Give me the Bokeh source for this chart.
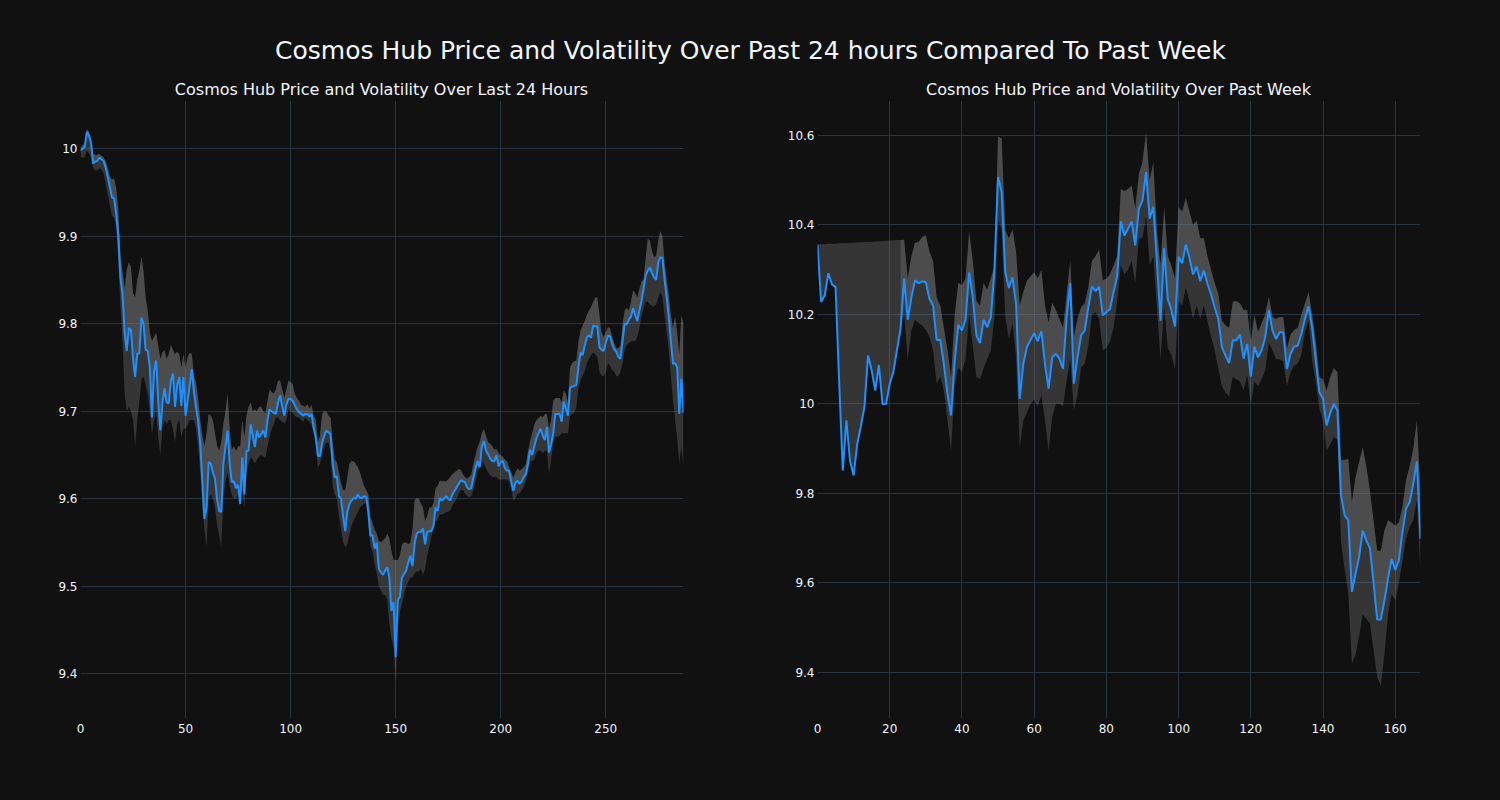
from bokeh.plotting import figure
from bokeh.layouts import column, row
from bokeh.models import Range1d, FixedTicker, CustomJSTickFormatter, Label
from bokeh.embed import file_html
from bokeh.resources import INLINE

# ---------------- data ----------------
main_title = "Cosmos Hub Price and Volatility Over Past 24 hours Compared To Past Week"
title_day = "Cosmos Hub Price and Volatility Over Last 24 Hours"
title_week = "Cosmos Hub Price and Volatility Over Past Week"

day_price = [
    9.998, 10.000, 10.002, 10.019, 10.015, 10.007, 9.983, 9.985, 9.986, 9.990,
    9.988, 9.986, 9.978, 9.968, 9.956, 9.944, 9.943, 9.925, 9.900, 9.853,
    9.834, 9.790, 9.769, 9.795, 9.793, 9.760, 9.739, 9.766, 9.766, 9.807,
    9.800, 9.770, 9.769, 9.750, 9.693, 9.745, 9.758, 9.710, 9.678, 9.710,
    9.726, 9.710, 9.709, 9.735, 9.743, 9.705, 9.730, 9.739, 9.706, 9.739,
    9.695, 9.712, 9.730, 9.748, 9.722, 9.704, 9.689, 9.662, 9.620, 9.577,
    9.590, 9.642, 9.640, 9.630, 9.623, 9.600, 9.586, 9.585, 9.640, 9.660,
    9.678, 9.640, 9.619, 9.620, 9.612, 9.616, 9.594, 9.647, 9.605, 9.655,
    9.655, 9.685, 9.672, 9.659, 9.678, 9.670, 9.674, 9.678, 9.670, 9.690,
    9.702, 9.700, 9.698, 9.697, 9.710, 9.718, 9.705, 9.695, 9.708, 9.714,
    9.714, 9.712, 9.707, 9.702, 9.699, 9.697, 9.695, 9.697, 9.697, 9.694,
    9.697, 9.681, 9.670, 9.649, 9.649, 9.664, 9.672, 9.678, 9.676, 9.674,
    9.640, 9.624, 9.626, 9.603, 9.600, 9.580, 9.563, 9.585, 9.594, 9.598,
    9.601, 9.600, 9.605, 9.601, 9.601, 9.603, 9.602, 9.585, 9.558, 9.558,
    9.543, 9.550, 9.520, 9.516, 9.513, 9.518, 9.522, 9.510, 9.472, 9.482,
    9.419, 9.484, 9.488, 9.510, 9.514, 9.518, 9.527, 9.535, 9.523, 9.548,
    9.560, 9.562, 9.562, 9.566, 9.548, 9.562, 9.563, 9.563, 9.569, 9.590,
    9.586, 9.601, 9.598, 9.600, 9.603, 9.600, 9.598, 9.605, 9.609, 9.613,
    9.617, 9.621, 9.620, 9.619, 9.613, 9.611, 9.612, 9.624, 9.635, 9.643,
    9.636, 9.660, 9.666, 9.655, 9.651, 9.646, 9.643, 9.643, 9.650, 9.637,
    9.642, 9.643, 9.635, 9.632, 9.632, 9.620, 9.609, 9.618, 9.621, 9.617,
    9.620, 9.625, 9.628, 9.640, 9.656, 9.650, 9.660, 9.669, 9.675, 9.680,
    9.672, 9.667, 9.682, 9.653, 9.662, 9.675, 9.697, 9.697, 9.697, 9.688,
    9.711, 9.703, 9.695, 9.727, 9.728, 9.729, 9.730, 9.750, 9.767, 9.764,
    9.775, 9.784, 9.787, 9.784, 9.798, 9.797, 9.797, 9.773, 9.770, 9.769,
    9.778, 9.786, 9.786, 9.777, 9.771, 9.768, 9.762, 9.760, 9.780, 9.800,
    9.799, 9.805, 9.808, 9.818, 9.810, 9.803, 9.815, 9.826, 9.840, 9.855,
    9.861, 9.864, 9.858, 9.853, 9.850, 9.870, 9.876, 9.875, 9.850, 9.830,
    9.807, 9.780, 9.754, 9.755, 9.750, 9.697, 9.737, 9.698,
]

day_upper = [
    10.002, 10.004, 10.006, 10.022, 10.020, 10.012, 9.994, 9.993, 9.993, 9.994,
    9.992, 9.990, 9.985, 9.978, 9.968, 9.965, 9.966, 9.955, 9.930, 9.878,
    9.860, 9.840, 9.862, 9.870, 9.865, 9.835, 9.830, 9.850, 9.860, 9.877,
    9.860, 9.830, 9.815, 9.790, 9.780, 9.785, 9.790, 9.775, 9.760, 9.767,
    9.770, 9.760, 9.765, 9.776, 9.770, 9.765, 9.768, 9.765, 9.750, 9.765,
    9.750, 9.762, 9.767, 9.765, 9.740, 9.733, 9.715, 9.690, 9.672, 9.660,
    9.675, 9.697, 9.695, 9.690, 9.675, 9.661, 9.655, 9.665, 9.686, 9.700,
    9.720, 9.680, 9.656, 9.660, 9.655, 9.660, 9.660, 9.690, 9.670, 9.695,
    9.705, 9.710, 9.700, 9.702, 9.700, 9.705, 9.705, 9.700, 9.698, 9.712,
    9.725, 9.722, 9.720, 9.725, 9.735, 9.735, 9.725, 9.715, 9.725, 9.735,
    9.733, 9.731, 9.720, 9.715, 9.712, 9.707, 9.706, 9.705, 9.708, 9.703,
    9.707, 9.695, 9.690, 9.665, 9.672, 9.697, 9.700, 9.700, 9.695, 9.693,
    9.665, 9.645, 9.642, 9.630, 9.618, 9.610, 9.610, 9.625, 9.640, 9.643,
    9.643, 9.640, 9.636, 9.630, 9.622, 9.615, 9.610, 9.605, 9.580, 9.572,
    9.565, 9.560, 9.552, 9.550, 9.553, 9.555, 9.560, 9.555, 9.540, 9.530,
    9.530, 9.530, 9.535, 9.548, 9.550, 9.550, 9.548, 9.550, 9.565, 9.598,
    9.601, 9.600, 9.595, 9.590, 9.575, 9.580, 9.590, 9.590, 9.595, 9.612,
    9.615, 9.621, 9.620, 9.620, 9.620, 9.622, 9.625, 9.628, 9.630, 9.632,
    9.634, 9.633, 9.628, 9.625, 9.623, 9.625, 9.628, 9.640, 9.650, 9.659,
    9.665, 9.675, 9.680, 9.672, 9.665, 9.663, 9.660, 9.656, 9.657, 9.652,
    9.650, 9.648, 9.645, 9.643, 9.636, 9.630, 9.624, 9.630, 9.635, 9.632,
    9.634, 9.636, 9.640, 9.655, 9.666, 9.675, 9.685, 9.690, 9.692, 9.695,
    9.693, 9.697, 9.697, 9.680, 9.690, 9.712, 9.715, 9.715, 9.715, 9.710,
    9.724, 9.720, 9.710, 9.750, 9.755, 9.757, 9.758, 9.780, 9.792, 9.798,
    9.803, 9.810, 9.815, 9.819, 9.825, 9.830, 9.830, 9.810, 9.790, 9.785,
    9.790, 9.796, 9.795, 9.785, 9.778, 9.772, 9.772, 9.775, 9.800, 9.815,
    9.818, 9.815, 9.825, 9.838, 9.835, 9.830, 9.840, 9.848, 9.851, 9.875,
    9.897, 9.895, 9.883, 9.876, 9.878, 9.895, 9.906, 9.900, 9.870, 9.850,
    9.833, 9.810, 9.795, 9.808, 9.790, 9.765, 9.810, 9.800,
]

day_lower = [
    9.990, 9.990, 9.990, 9.998, 9.995, 9.990, 9.978, 9.975, 9.975, 9.978,
    9.976, 9.972, 9.960, 9.948, 9.935, 9.923, 9.921, 9.910, 9.870, 9.820,
    9.780, 9.720, 9.700, 9.705, 9.700, 9.690, 9.660, 9.690, 9.710, 9.736,
    9.740, 9.730, 9.720, 9.700, 9.674, 9.690, 9.700, 9.670, 9.650, 9.680,
    9.690, 9.685, 9.690, 9.690, 9.680, 9.665, 9.685, 9.690, 9.670, 9.680,
    9.680, 9.685, 9.690, 9.690, 9.690, 9.680, 9.660, 9.630, 9.590, 9.565,
    9.545, 9.600, 9.605, 9.600, 9.590, 9.570, 9.558, 9.545, 9.600, 9.620,
    9.630, 9.615, 9.605, 9.600, 9.600, 9.605, 9.600, 9.610, 9.590, 9.630,
    9.640, 9.647, 9.645, 9.640, 9.645, 9.648, 9.650, 9.648, 9.647, 9.660,
    9.670, 9.680, 9.685, 9.693, 9.693, 9.690, 9.688, 9.686, 9.690, 9.702,
    9.700, 9.698, 9.695, 9.693, 9.693, 9.690, 9.688, 9.693, 9.690, 9.688,
    9.685, 9.675, 9.660, 9.636, 9.640, 9.650, 9.660, 9.664, 9.664, 9.655,
    9.615, 9.605, 9.600, 9.580, 9.565, 9.550, 9.545, 9.548, 9.560, 9.570,
    9.575, 9.580, 9.585, 9.590, 9.592, 9.595, 9.595, 9.570, 9.545, 9.540,
    9.525, 9.515, 9.500, 9.495, 9.490, 9.490, 9.485, 9.456, 9.440, 9.430,
    9.390, 9.450, 9.470, 9.480, 9.490, 9.500, 9.505, 9.510, 9.510, 9.515,
    9.517, 9.517, 9.520, 9.513, 9.520, 9.535, 9.545, 9.557, 9.565, 9.575,
    9.575, 9.582, 9.582, 9.583, 9.585, 9.585, 9.587, 9.592, 9.596, 9.600,
    9.605, 9.610, 9.610, 9.606, 9.603, 9.602, 9.603, 9.610, 9.620, 9.632,
    9.635, 9.643, 9.640, 9.635, 9.630, 9.627, 9.625, 9.625, 9.625, 9.622,
    9.622, 9.622, 9.622, 9.622, 9.620, 9.610, 9.598, 9.600, 9.606, 9.606,
    9.610, 9.614, 9.620, 9.630, 9.643, 9.643, 9.645, 9.652, 9.655, 9.655,
    9.652, 9.655, 9.655, 9.628, 9.645, 9.665, 9.671, 9.671, 9.672, 9.675,
    9.675, 9.675, 9.675, 9.695, 9.697, 9.698, 9.705, 9.727, 9.735, 9.741,
    9.745, 9.755, 9.760, 9.764, 9.767, 9.765, 9.762, 9.745, 9.741, 9.740,
    9.745, 9.755, 9.752, 9.747, 9.745, 9.740, 9.740, 9.745, 9.755, 9.770,
    9.775, 9.778, 9.780, 9.780, 9.780, 9.785, 9.795, 9.808, 9.818, 9.825,
    9.825, 9.822, 9.820, 9.820, 9.822, 9.830, 9.836, 9.830, 9.808, 9.790,
    9.770, 9.740, 9.712, 9.690, 9.668, 9.641, 9.660, 9.635,
]

week_price = [
    10.356, 10.228, 10.242, 10.292, 10.267, 10.261, 10.050, 9.851, 9.963, 9.873,
    9.840, 9.910, 9.950, 9.993, 10.108, 10.075, 10.030, 10.087, 10.000, 10.000,
    10.045, 10.071, 10.120, 10.168, 10.280, 10.188, 10.238, 10.276, 10.270, 10.274,
    10.272, 10.235, 10.220, 10.143, 10.143, 10.089, 10.022, 9.974, 10.097, 10.177,
    10.164, 10.188, 10.294, 10.238, 10.153, 10.136, 10.188, 10.171, 10.194, 10.298,
    10.507, 10.473, 10.294, 10.259, 10.283, 10.223, 10.011, 10.089, 10.127, 10.143,
    10.158, 10.140, 10.163, 10.089, 10.034, 10.104, 10.112, 10.101, 10.078, 10.194,
    10.270, 10.045, 10.104, 10.153, 10.164, 10.216, 10.262, 10.252, 10.262, 10.198,
    10.205, 10.212, 10.250, 10.287, 10.408, 10.376, 10.391, 10.408, 10.354, 10.436,
    10.455, 10.518, 10.414, 10.441, 10.320, 10.186, 10.348, 10.234, 10.210, 10.173,
    10.329, 10.314, 10.356, 10.327, 10.289, 10.307, 10.274, 10.298, 10.268, 10.245,
    10.215, 10.190, 10.127, 10.108, 10.091, 10.142, 10.142, 10.155, 10.101, 10.134,
    10.061, 10.128, 10.104, 10.120, 10.149, 10.210, 10.164, 10.145, 10.160, 10.160,
    10.078, 10.112, 10.128, 10.130, 10.156, 10.190, 10.218, 10.170, 10.097, 10.026,
    10.011, 9.952, 9.980, 10.000, 9.985, 9.795, 9.751, 9.740, 9.580, 9.620,
    9.658, 9.717, 9.695, 9.677, 9.600, 9.518, 9.518, 9.560, 9.610, 9.654,
    9.629, 9.650, 9.714, 9.766, 9.780, 9.822, 9.872, 9.699,
]

week_upper = [
    10.356, 10.357, 10.357, 10.358, 10.358, 10.358, 10.359, 10.359, 10.359, 10.360,
    10.360, 10.361, 10.361, 10.362, 10.362, 10.362, 10.363, 10.363, 10.364, 10.364,
    10.365, 10.365, 10.366, 10.366, 10.367, 10.280, 10.330, 10.360, 10.362, 10.373,
    10.377, 10.340, 10.320, 10.238, 10.220, 10.170, 10.120, 10.060, 10.200, 10.270,
    10.265, 10.280, 10.384, 10.320, 10.230, 10.220, 10.270, 10.255, 10.280, 10.310,
    10.597, 10.593, 10.388, 10.370, 10.390, 10.340, 10.220, 10.250, 10.275, 10.285,
    10.294, 10.280, 10.300, 10.220, 10.182, 10.226, 10.210, 10.190, 10.170, 10.245,
    10.320, 10.150, 10.190, 10.216, 10.225, 10.260, 10.320, 10.330, 10.345, 10.276,
    10.280, 10.290, 10.310, 10.330, 10.480, 10.476, 10.480, 10.488, 10.436, 10.514,
    10.540, 10.607, 10.500, 10.540, 10.387, 10.310, 10.440, 10.330, 10.310, 10.280,
    10.440, 10.430, 10.460, 10.430, 10.400, 10.410, 10.370, 10.370, 10.330, 10.300,
    10.270, 10.246, 10.186, 10.175, 10.170, 10.228, 10.230, 10.225, 10.210, 10.210,
    10.140, 10.200, 10.160, 10.180, 10.200, 10.240, 10.194, 10.190, 10.194, 10.194,
    10.123, 10.155, 10.165, 10.170, 10.200, 10.225, 10.250, 10.200, 10.140, 10.060,
    10.055, 10.030, 10.060, 10.080, 10.070, 9.874, 9.875, 9.877, 9.780, 9.836,
    9.870, 9.903, 9.860, 9.806, 9.740, 9.672, 9.672, 9.717, 9.740, 9.735,
    9.728, 9.735, 9.770, 9.830, 9.860, 9.900, 9.963, 9.800,
]

week_lower = [
    10.356, 10.228, 10.242, 10.292, 10.267, 10.261, 10.050, 9.851, 9.963, 9.873,
    9.840, 9.910, 9.950, 9.993, 10.108, 10.075, 10.030, 10.087, 10.000, 10.000,
    10.045, 10.071, 10.120, 10.168, 10.200, 10.098, 10.165, 10.188, 10.180, 10.175,
    10.165, 10.150, 10.120, 10.045, 10.060, 10.030, 9.963, 9.896, 10.045, 10.082,
    10.070, 10.100, 10.200, 10.130, 10.060, 10.055, 10.080, 10.100, 10.120, 10.194,
    10.410, 10.390, 10.194, 10.145, 10.180, 10.104, 9.903, 9.963, 9.980, 10.000,
    10.010, 9.995, 10.020, 9.963, 9.896, 9.970, 10.000, 10.000, 9.995, 10.052,
    10.100, 9.985, 10.020, 10.082, 10.090, 10.130, 10.200, 10.205, 10.190, 10.120,
    10.125, 10.140, 10.170, 10.230, 10.310, 10.290, 10.300, 10.320, 10.268, 10.370,
    10.370, 10.420, 10.310, 10.330, 10.216, 10.100, 10.216, 10.125, 10.110, 10.078,
    10.230, 10.220, 10.260, 10.230, 10.190, 10.220, 10.190, 10.220, 10.185, 10.150,
    10.120, 10.078, 10.040, 10.025, 10.017, 10.060, 10.055, 10.050, 10.030, 10.065,
    10.000, 10.050, 10.040, 10.055, 10.075, 10.136, 10.120, 10.100, 10.100, 10.095,
    10.040, 10.070, 10.085, 10.090, 10.110, 10.160, 10.186, 10.097, 10.050, 9.990,
    9.963, 9.896, 9.910, 9.926, 9.920, 9.690, 9.630, 9.576, 9.420, 9.440,
    9.480, 9.530, 9.520, 9.510, 9.450, 9.390, 9.370, 9.440, 9.530, 9.575,
    9.560, 9.600, 9.650, 9.700, 9.725, 9.740, 9.785, 9.620,
]

day_xticks = [0, 50, 100, 150, 200, 250]
day_yticks = [9.4, 9.5, 9.6, 9.7, 9.8, 9.9, 10.0]
week_xticks = [0, 20, 40, 60, 80, 100, 120, 140, 160]
week_yticks = [9.4, 9.6, 9.8, 10.0, 10.2, 10.4, 10.6]

# ---------------- style ----------------
BG = "#111111"
GRID = "#283442"
TXT = "#f2f5fa"
LINE = "#1E90FF"
FONT = "DejaVu Sans"

fmt = CustomJSTickFormatter(code="return (Math.round(tick*10)/10).toString();")


def make_panel(price, upper, lower, xr, yr, xt, yt, left_border, right_border):
    n = len(price)
    xs = list(range(n))
    p = figure(frame_width=603, frame_height=618, x_range=Range1d(*xr),
               y_range=Range1d(*yr), output_backend="svg", toolbar_location=None,
               background_fill_color=BG, border_fill_color=BG,
               min_border_left=left_border, min_border_right=right_border,
               min_border_top=0, min_border_bottom=62)
    p.outline_line_color = None
    # volatility band: full band, then lighter part above the price
    p.varea(x=xs, y1=lower, y2=upper, fill_color="#808080", fill_alpha=0.33)
    k = next(i for i in range(n) if lower[i] != price[i])
    k = max(k - 1, 0)
    p.varea(x=xs[k:], y1=price[k:], y2=upper[k:], fill_color="#808080", fill_alpha=0.3)
    p.line(xs, price, line_color=LINE, line_width=2)
    for ax, ticks in ((p.xaxis, xt), (p.yaxis, yt)):
        ax.ticker = FixedTicker(ticks=ticks)
        ax.axis_line_color = None
        ax.major_tick_line_color = None
        ax.minor_tick_line_color = None
        ax.major_tick_out = 0
        ax.major_tick_in = 0
        ax.major_label_text_color = TXT
        ax.major_label_text_font = FONT
        ax.major_label_text_font_size = "12px"
    p.yaxis.formatter = fmt
    p.xaxis.major_label_standoff = 5
    p.yaxis.major_label_standoff = 3
    p.xgrid.grid_line_color = GRID
    p.ygrid.grid_line_color = GRID
    p.xgrid.ticker = FixedTicker(ticks=xt)
    p.ygrid.ticker = FixedTicker(ticks=yt)
    return p


p1 = make_panel(day_price, day_upper, day_lower, (0, 287), (9.349, 10.055),
                day_xticks, day_yticks, 80, 62)
p2 = make_panel(week_price, week_upper, week_lower, (0, 167), (9.297, 10.678),
                week_xticks, week_yticks, 72, 80)

head = figure(width=1500, height=100, x_range=Range1d(0, 1), y_range=Range1d(0, 1),
              output_backend="svg", toolbar_location=None,
              background_fill_color=BG, border_fill_color=BG, min_border=0)
head.outline_line_color = None
head.xaxis.visible = False
head.yaxis.visible = False
head.xgrid.visible = False
head.ygrid.visible = False
head.add_layout(Label(x=750, y=50, x_units="screen", y_units="screen", text=main_title,
                      text_font=FONT, text_font_size="25px", text_color=TXT,
                      text_align="center", text_baseline="middle"))
head.add_layout(Label(x=381, y=11, x_units="screen", y_units="screen", text=title_day,
                      text_font=FONT, text_font_size="16px", text_color=TXT,
                      text_align="center", text_baseline="middle"))
head.add_layout(Label(x=1118, y=11, x_units="screen", y_units="screen", text=title_week,
                      text_font=FONT, text_font_size="16px", text_color=TXT,
                      text_align="center", text_baseline="middle"))

layout = column(head, row(p1, p2), spacing=0)

html = file_html(layout, INLINE, title="Cosmos Hub")
html = html.replace("<head>", "<head><style>html,body{background:#111111;}</style>", 1)
open("out.html", "w").write(html)
